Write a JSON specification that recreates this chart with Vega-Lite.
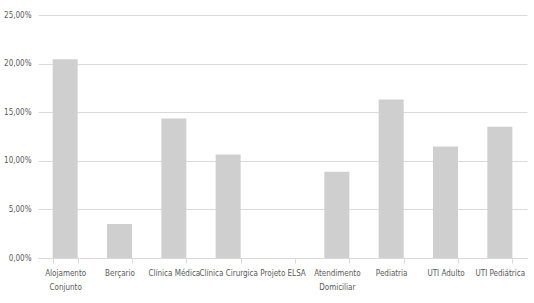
{
  "$schema": "https://vega.github.io/schema/vega-lite/v6.json",
  "width": 534,
  "height": 303,
  "autosize": {"type": "fit", "contains": "padding"},
  "padding": {"left": 3, "top": 11, "right": 7, "bottom": 12},
  "background": "white",
  "config": {
    "locale": {"number": {"decimal": ",", "thousands": ".", "grouping": [3], "currency": ["R$", ""]}},
    "view": {"stroke": null},
    "font": "DejaVu Sans Condensed",
    "axis": {"labelFont": "DejaVu Sans Condensed", "labelFontSize": 8, "labelColor": "#595959"}
  },
  "data": {"values": [
    {"setor": "Alojamento Conjunto", "valor": 0.2045},
    {"setor": "Berçario", "valor": 0.035},
    {"setor": "Clínica Médica", "valor": 0.1436},
    {"setor": "Clínica Cirurgica", "valor": 0.1064},
    {"setor": "Projeto ELSA", "valor": 0.0},
    {"setor": "Atendimento Domiciliar", "valor": 0.0888},
    {"setor": "Pediatria", "valor": 0.163},
    {"setor": "UTI Adulto", "valor": 0.1147},
    {"setor": "UTI Pediátrica", "valor": 0.135}
  ]},
  "mark": {"type": "bar", "fill": "#cfcfcf"},
  "encoding": {
    "x": {
      "field": "setor", "type": "nominal", "sort": null,
      "scale": {"paddingInner": 0.54, "paddingOuter": 0.27},
      "axis": {
        "title": null, "labelAngle": 0, "domainColor": "#d9d9d9", "tickColor": "#d9d9d9",
        "tickBand": "extent", "tickSize": 5, "labelPadding": 6, "labelLineHeight": 14,
        "labelOverlap": false,
        "labelExpr": "datum.value == 'Alojamento Conjunto' ? ['Alojamento', 'Conjunto'] : datum.value == 'Atendimento Domiciliar' ? ['Atendimento', 'Domiciliar'] : datum.value"
      }
    },
    "y": {
      "field": "valor", "type": "quantitative",
      "scale": {"domain": [0, 0.25]},
      "axis": {
        "title": null, "format": ".2%", "values": [0, 0.05, 0.1, 0.15, 0.2, 0.25],
        "domain": false, "ticks": false, "gridColor": "#d9d9d9", "labelPadding": 7, "labelOverlap": false
      }
    }
  }
}
